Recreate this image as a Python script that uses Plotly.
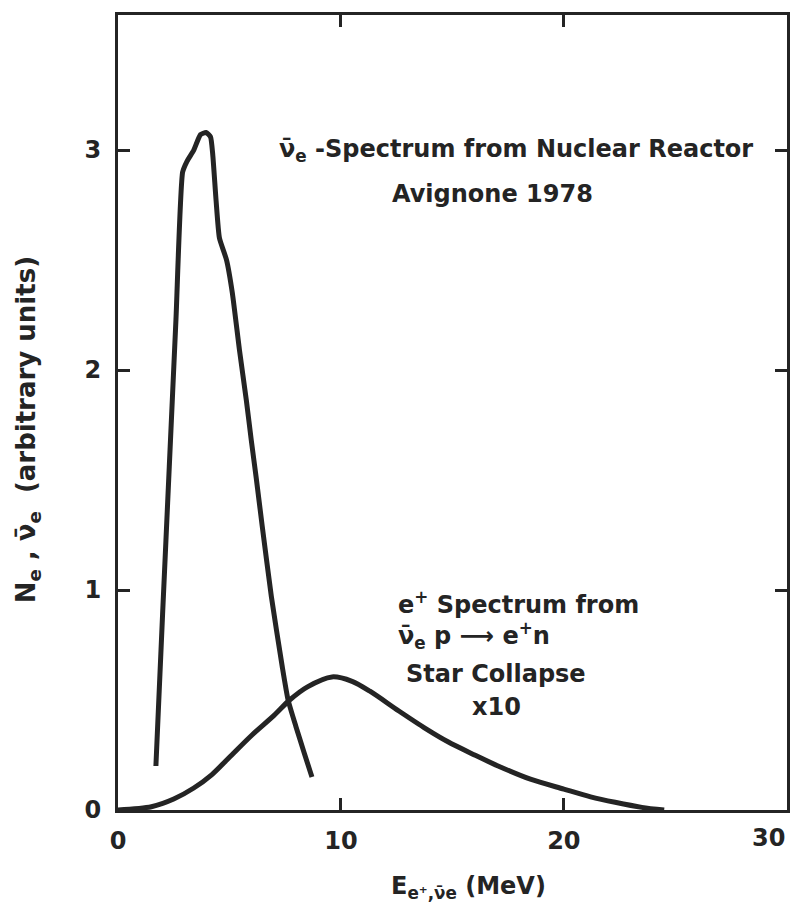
import plotly.graph_objects as go

# Reactor anti-neutrino spectrum (Avignone 1978)
reactor_x = [1.7, 2.0, 2.3, 2.6, 2.9, 3.1, 3.4, 3.7, 3.95, 4.15, 4.25, 4.4, 4.55, 4.87,
             5.13, 5.45, 5.76, 5.98, 6.2, 6.47, 6.88, 7.37, 7.63, 7.98, 8.35, 8.7]
reactor_y = [0.2, 0.89, 1.56, 2.23, 2.9, 2.95, 3.0, 3.07, 3.08, 3.06, 2.98, 2.77, 2.6, 2.5,
             2.35, 2.09, 1.86, 1.68, 1.51, 1.29, 0.97, 0.65, 0.5, 0.38, 0.26, 0.15]

# e+ spectrum from star collapse (x10)
star_x = [0.0, 1.5, 2.5, 3.4, 4.2, 5.0, 6.0, 7.0, 7.7, 8.5, 9.6, 10.5, 11.3, 12.6, 13.8,
          14.8, 16.0, 17.05, 18.5, 20.0, 21.2, 22.3, 23.5, 24.5]
star_y = [0.0, 0.015, 0.05, 0.1, 0.16, 0.24, 0.34, 0.43, 0.5, 0.56, 0.605, 0.585, 0.54,
          0.45, 0.37, 0.31, 0.25, 0.2, 0.14, 0.095, 0.06, 0.035, 0.012, 0.0]

x_ticks = [0, 10, 20, 30]
x_tick_labels = ["0", "10", "20", "30"]
y_ticks = [0, 1, 2, 3]
y_tick_labels = ["0", "1", "2", "3"]

INK = "#242424"
FONT = "DejaVu Sans"

fig = go.Figure()
fig.add_trace(go.Scatter(x=reactor_x, y=reactor_y, mode="lines",
                         line=dict(color=INK, width=5, shape="spline", smoothing=0.5),
                         showlegend=False, hoverinfo="skip"))
fig.add_trace(go.Scatter(x=star_x, y=star_y, mode="lines",
                         line=dict(color=INK, width=5, shape="spline", smoothing=0.8),
                         showlegend=False, hoverinfo="skip"))

tick_font = dict(family=FONT, size=24, color=INK, weight="bold")
axis_common = dict(showgrid=False, zeroline=False, showline=True, mirror="allticks",
                   linewidth=3, linecolor=INK, ticks="inside", ticklen=12, tickwidth=3,
                   tickcolor=INK, tickfont=tick_font)

# last x label is drawn as an annotation so it stays inside the page (as in the reference)
fig.update_xaxes(range=[0, 30.01], tickvals=x_ticks,
                 ticktext=x_tick_labels[:-1] + [""], ticklabelstandoff=7, **axis_common)
fig.update_yaxes(range=[0, 3.614], tickvals=y_ticks, ticktext=y_tick_labels,
                 ticklabelstandoff=9, **axis_common)
fig.add_annotation(xref="x", yref="paper", x=x_ticks[-1], y=-0.035, xanchor="right",
                   yanchor="middle", showarrow=False, font=tick_font,
                   text=x_tick_labels[-1])

nubar = "\u03bd\u0304"
txt_font = dict(family=FONT, size=24, color=INK, weight="bold")

annos = [
    dict(x=7.13, y=3.0, xanchor="left", yanchor="middle",
         text=f"{nubar}<sub>e</sub> -Spectrum from Nuclear Reactor"),
    dict(x=16.8, y=2.80, xanchor="center", yanchor="middle", text="Avignone 1978"),
    dict(x=12.45, y=0.94, xanchor="left", yanchor="middle", text="e<sup>+</sup> Spectrum from"),
    dict(x=12.45, y=0.795, xanchor="left", yanchor="middle",
         text=f"{nubar}<sub>e</sub> p \u27f6 e<sup>+</sup>n"),
    dict(x=12.85, y=0.62, xanchor="left", yanchor="middle", text="Star Collapse"),
    dict(x=17.0, y=0.47, xanchor="center", yanchor="middle", text="x10"),
]
for a in annos:
    fig.add_annotation(xref="x", yref="y", showarrow=False, font=txt_font, **a)

fig.add_annotation(xref="paper", yref="paper", x=0.524, y=-0.098, xanchor="center",
                   yanchor="middle", showarrow=False, font=txt_font,
                   text=f"E<sub>e\u207a,{nubar}e</sub> (MeV)")
fig.add_annotation(xref="paper", yref="paper", x=-0.134, y=0.478, xanchor="center",
                   yanchor="middle", showarrow=False,
                   font=dict(family=FONT, size=26, color=INK, weight="bold"), textangle=-90,
                   text=f"N<sub>e</sub> , {nubar}<sub>e</sub>  (arbitrary units)")

fig.update_layout(width=796, height=914, margin=dict(l=118, r=6, t=15, b=104),
                  paper_bgcolor="white", plot_bgcolor="white")

fig.write_html("out.html")
